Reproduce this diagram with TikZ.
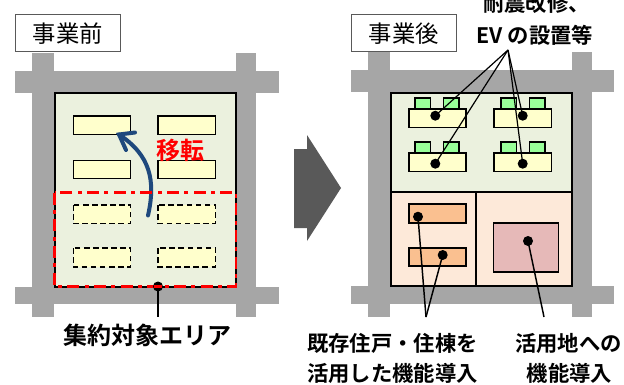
\documentclass[tikz,border=0pt]{standalone}
\usepackage{fontspec}
\newfontfamily\cjk{Noto Sans CJK JP}
\newfontfamily\cjkb{Noto Sans CJK JP Bold}
\tikzset{
  road/.style={fill=roadgray,draw=none},
  blockline/.style={draw=black,line width=1.5},
  bldg/.style={fill=bldgyellow,draw=black,line width=1.3},
  ghost/.style={fill=bldgyellow,draw=black,line width=1,dash pattern=on 4.2 off 2.6},
  ev/.style={fill=evgreen,draw=black,line width=1},
  leader/.style={draw=black,line width=1.1},
  thinleader/.style={draw=black,line width=.9},
  dotn/.style={circle,fill=black,inner sep=0,minimum size=7.5},
  lab/.style={font=\cjkb\fontsize{16}{16}\selectfont,inner sep=0,text=black},
  tag/.style={draw=tagline,fill=white,line width=.7,font=\cjk\fontsize{17.5}{17.5}\selectfont,inner sep=0,minimum width=78.75,minimum height=27.5},
}
\definecolor{roadgray}{HTML}{A6A6A6}
\definecolor{blockgreen}{HTML}{EBF1DE}
\definecolor{bldgyellow}{HTML}{FFFFCC}
\definecolor{evgreen}{HTML}{99FF99}
\definecolor{peach}{HTML}{FDE9D9}
\definecolor{orangeb}{HTML}{FAC090}
\definecolor{pinkb}{HTML}{E6B9B8}
\definecolor{navyarrow}{HTML}{1F497D}
\definecolor{tagline}{HTML}{595959}
\definecolor{arrowgray}{HTML}{595959}
\begin{document}
\begin{tikzpicture}[x=0.75pt,y=-0.75pt]
\useasboundingbox (0,0) rectangle (624,385);
\clip (0,0) rectangle (624,385);
% ---------- left roads
\fill[road] (32,53) rectangle (54,317);
\fill[road] (236,53) rectangle (256,317);
\fill[road] (15,71) rectangle (278.5,92.5);
\fill[road] (15,286.5) rectangle (278.5,304);
% left block
\node[tag,anchor=north west] (tagL) at (15,14.5) {事業前};
\fill[blockgreen] (54.5,93) rectangle (236,286.5);
\draw[blockline] (54.5,93) rectangle (236,286.5);
% buildings
\draw[bldg] (73.5,116) rectangle (130.5,134.5);
\draw[bldg] (158,116) rectangle (215.5,134.5);
\draw[bldg] (73.5,160.5) rectangle (130.5,178.5);
\draw[bldg] (158,160.5) rectangle (215.5,178.5);
\draw[ghost] (73.5,205) rectangle (130.5,223.5);
\draw[ghost] (158,205) rectangle (215.5,223.5);
\draw[ghost] (73.5,248) rectangle (130.5,267);
\draw[ghost] (158,248) rectangle (215.5,267);
% relocate arrow
\coordinate (arrA) at (148,215.5);
\coordinate (arrB) at (119,134.5);
\draw[navyarrow,line width=3,line cap=round] (arrA) .. controls (156,180) and (150,155) .. (arrB);
\draw[navyarrow,line width=3,line cap=round] (126,150) -- (arrB) -- (135,132.5);
\node[font=\cjkb\fontsize{18}{18}\selectfont,text=red,inner sep=0] (moveL) at (180,150) {移転};
% target area
\draw[red,line width=2.2,dash pattern=on 9 off 4 on 3 off 4] (54.5,192.5) rectangle (236,286.5);
\coordinate (areaEnd) at (158,317);
\node[dotn] (areaDot) at (158,286.5) {};
\draw[leader,line width=1.4] (areaDot.center) -- (areaEnd);
\draw[red,line width=1.6] (154,286.5) -- (162,286.5);
\node[lab,font=\cjkb\fontsize{18}{18}\selectfont] (areaL) at (147.5,335) {集約対象エリア};
% ---------- arrow
\fill[arrowgray] (294,149) -- (307,149) -- (307,135) -- (341,188) -- (307,241) -- (307,228) -- (294,228) -- cycle;
% ---------- right roads
\fill[road] (368,52) rectangle (390,317);
\fill[road] (571.5,52) rectangle (591.5,317);
\fill[road] (351,70.5) rectangle (614,92);
\fill[road] (351,286) rectangle (614,304);
\node[tag,anchor=north west] (tagR) at (351,14.5) {事業後};
\fill[blockgreen] (390.5,92.5) rectangle (572,192);
\fill[peach] (390.5,192) rectangle (572,286);
\draw[blockline] (390.5,92.5) rectangle (572,286);
\draw[blockline] (390.5,192) -- (572,192);
\draw[blockline] (476,192) -- (476,286);
% EV
\foreach \x/\y in {415/98,443.5/98,501/98,529.5/98,415/142,443.5/142,501/142,529.5/142}
  \draw[ev] (\x,\y) rectangle (\x+15.5,\y+12);
\draw[bldg] (409,109) rectangle (466,127.5);
\draw[bldg] (494,109) rectangle (551.5,127.5);
\draw[bldg] (409,153) rectangle (466,171.5);
\draw[bldg] (494,153) rectangle (551.5,171.5);
\node[dotn] (d1) at (435.3,115.7) {};
\node[dotn] (d2) at (522.7,115.7) {};
\node[dotn] (d3) at (435.3,163.7) {};
\node[dotn] (d4) at (522.7,163.7) {};
\coordinate (evApex) at (508,50);
\draw[thinleader] (evApex) -- (d1.center);
\draw[thinleader] (evApex) -- (d2.center);
\draw[thinleader] (evApex) -- (d3.center);
\draw[thinleader] (evApex) -- (d4.center);
\node[lab] (evL1) at (536.5,3) {耐震改修、};
\node[lab] (evL2) at (535,35) {EV の設置等};
% lower buildings
\draw[fill=orangeb,draw=black,line width=1.3] (409,204) rectangle (466,223);
\draw[fill=orangeb,draw=black,line width=1.3] (409,248) rectangle (466,266);
\draw[fill=pinkb,draw=black,line width=1.3] (493.5,223) rectangle (558.5,272);
\node[dotn] (d5) at (418,216.7) {};
\node[dotn] (d6) at (442.7,255) {};
\node[dotn] (d7) at (528,241) {};
\coordinate (c1) at (426,317);
\coordinate (c2) at (544,317);
\draw[leader] (d5.center) -- (c1);
\draw[leader] (d6.center) -- (c1);
\draw[leader] (d7.center) -- (c2);
\node[lab] (l1) at (392.5,343) {既存住戸・住棟を};
\node[lab] (l2) at (392.5,373) {活用した機能導入};
\node[lab] (l3) at (568.5,343) {活用地への};
\node[lab] (l4) at (569.5,373) {機能導入};
\end{tikzpicture}
\end{document}
